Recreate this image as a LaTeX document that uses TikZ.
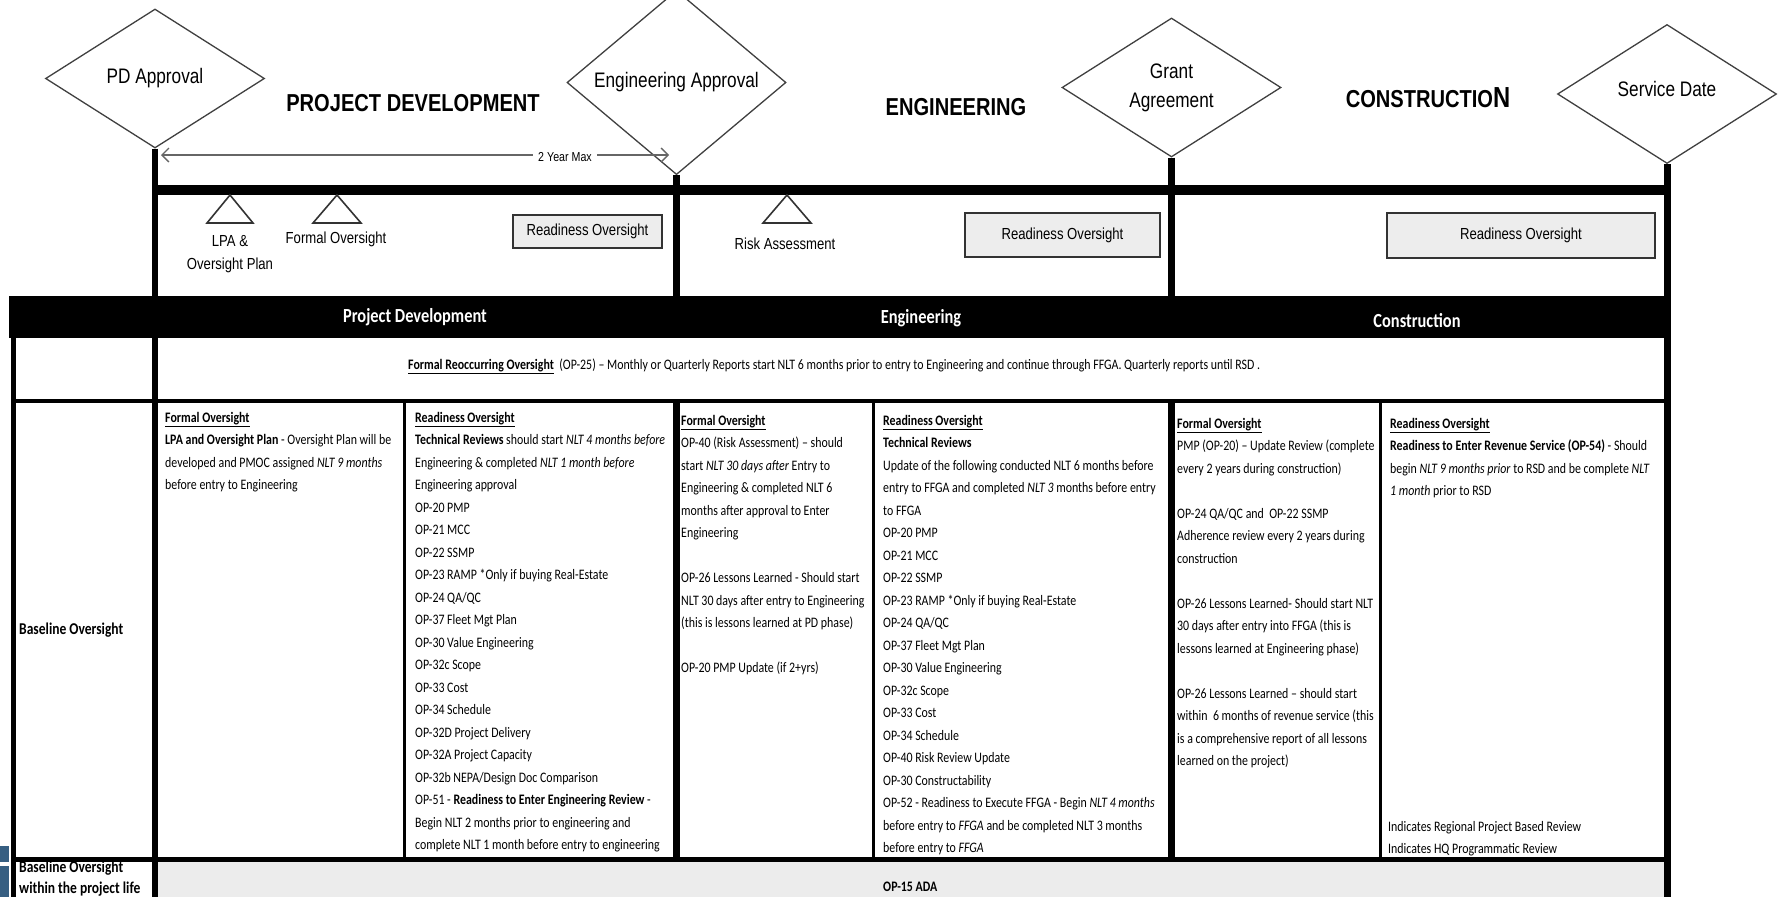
\documentclass[tikz,border=0pt]{standalone}
\usepackage{fontspec}
\setmainfont{Liberation Sans}[FakeStretch=0.82]
\newfontfamily\calfont{Carlito}[FakeStretch=0.82]
\usetikzlibrary{shapes.geometric,arrows.meta}

\definecolor{slideblue}{RGB}{55,95,130}
\newcommand{\hd}[1]{\textbf{\underline{#1}}}
\newcommand{\topstrut}{\rule{0pt}{15pt}}

\begin{document}
\begin{tikzpicture}[x=1pt, y=-1pt,
        gate/.style = {diamond, draw=black!75, line width=1.3pt, minimum width=219pt, minimum height=139pt, inner sep=0pt, align=center, font=\fontsize{21}{29}\selectfont},
        phase/.style = {font=\bfseries\fontsize{24.5}{28}\selectfont},
        note/.style = {align=center, inner sep=0pt, font=\fontsize{16}{23}\selectfont},
        readybox/.style = {draw=black!80, line width=1.5pt, fill=gray!14, inner sep=0pt, font=\fontsize{16}{20}\selectfont},
        band/.style = {text=white, font=\calfont\bfseries\fontsize{20}{24}\selectfont},
        cell/.style = {anchor=north west, inner sep=0pt, align=left, font=\calfont\fontsize{14.5}{22.5}\selectfont},
        rowhead/.style = {anchor=north west, inner sep=0pt, align=left, font=\calfont\bfseries\fontsize{16.5}{21}\selectfont},
        gateline/.style = {line width=6.5pt},
        thinrule/.style = {line width=3pt},
        tri/.style = {draw=black!80, line width=1.6pt}]

        % Page
        \clip (0,0) rectangle (1779,897);
        \fill[white] (0,0) rectangle (1779,897);

        % Levels
        \coordinate (tl) at (0,190);
        \coordinate (bandtop) at (0,296);
        \coordinate (rowtop) at (0,401);
        \coordinate (rowbot) at (0,859);
        \coordinate (bot) at (0,897);

        % Gates
        \node[gate] (PD) at (155,78.5) {PD Approval};
        \node[gate] (EA) at (676.5,82.5) {Engineering Approval};
        \node[gate] (GA) at (1171.5,87.5) {Grant\\Agreement};
        \node[gate] (SD) at (1667,94) {\raisebox{11pt}{Service Date}};

        % Phase titles
        \node[phase] (pdev) at (413,103) {PROJECT DEVELOPMENT};
        \node[phase] (eng) at (956,107) {ENGINEERING};
        \node[phase] (con) at (1428,98) {CONSTRUCTIO{\fontsize{29}{30}\selectfont N}};

        % 2 year span
        \coordinate (yrL) at (161,155);
        \coordinate (yrR) at (669,155);
        \draw[black!60, line width=1.3pt, {Straight Barb[length=7pt,width=14pt]}-{Straight Barb[length=7pt,width=14pt]}] (yrL) -- (yrR);
        \node[fill=white, inner sep=5pt, font=\fontsize{13}{15}\selectfont] (yrmax) at (565,157) {2 Year Max};

        % Fills
        \fill (9,296) rectangle (1670,338);
        \fill[gray!15] (155,861) rectangle (1667,897);
        \fill[slideblue] (0,846) rectangle (9,862);
        \fill[slideblue] (0,866) rectangle (9,897);

        % Timeline and gate lines
        \draw[line width=10pt] (PD.south |- tl) -- (SD.south |- tl);
        \draw[gateline] (PD.south) -- (PD.south |- bot);
        \draw[gateline] (EA.south) -- (EA.south |- bandtop);
        \draw[gateline] (GA.south) -- (GA.south |- bandtop);
        \draw[gateline] (EA.south |- rowtop) -- (EA.south |- rowbot);
        \draw[gateline] (GA.south |- rowtop) -- (GA.south |- rowbot);
        \draw[line width=7pt] (SD.south) -- (SD.south |- bot);

        % Milestones
        \draw[tri] (207,223) -- (230,195) -- (253,223) -- cycle;
        \draw[tri] (313,223) -- (337,195) -- (361,223) -- cycle;
        \draw[tri] (763,223) -- (787,195) -- (811,223) -- cycle;
        \node[note] (lpa) at (230,254) {LPA \&\\Oversight Plan};
        \node[note] (formal) at (336,239) {Formal Oversight};
        \node[note] (risk) at (785,244) {Risk Assessment};

        % Readiness boxes
        \node[readybox, minimum width=149pt, minimum height=33pt] (rdpd) at (587.5,231.5) {Readiness Oversight};
        \node[readybox, minimum width=195pt, minimum height=44pt] (rdeng) at (1062.5,235) {Readiness Oversight};
        \node[readybox, minimum width=268pt, minimum height=45pt] (rdcon) at (1521,235.5) {Readiness Oversight};

        % Band labels
        \node[band] (bpd) at (415,317) {Project Development};
        \node[band] (beng) at (921,318) {Engineering};
        \node[band] (bcon) at (1417,321) {Construction};

        % Table rules
        \draw[line width=5pt] (13,338) -- (13,897);
        \draw[line width=4pt] (13,401) -- (1667,401);
        \draw[line width=5pt] (13,859) -- (1667,859);
        \draw[thinrule] (404,401) -- (404,859);
        \draw[thinrule] (873,401) -- (873,859);
        \draw[thinrule] (1380,401) -- (1380,859);

        % Reoccurring row
        \node[cell] (reocc) at (408,354) {\topstrut\hd{Formal Reoccurring Oversight}\ \ (OP-25) – Monthly or Quarterly Reports start NLT 6 months prior to entry to Engineering and continue through FFGA. Quarterly reports until RSD .};

        % Row headers
        \node[rowhead, anchor=west] (base) at (19,630) {Baseline Oversight};
        \node[rowhead] (baselife) at (19,861) {Baseline Oversight\\within the project life};

        % Project development cells
        \node[cell] (pdformal) at (165,407) {\topstrut\hd{Formal Oversight}\\
            \textbf{LPA and Oversight Plan} - Oversight Plan will be\\
            developed and PMOC assigned \textit{NLT 9 months}\\
            before entry to Engineering};
        \node[cell] (pdready) at (415,407) {\topstrut\hd{Readiness Oversight}\\
            \textbf{Technical Reviews} should start \textit{NLT 4 months before}\\
            Engineering \& completed \textit{NLT 1 month before}\\
            Engineering approval\\
            OP-20 PMP\\
            OP-21 MCC\\
            OP-22 SSMP\\
            OP-23 RAMP *Only if buying Real-Estate\\
            OP-24 QA/QC\\
            OP-37 Fleet Mgt Plan\\
            OP-30 Value Engineering\\
            OP-32c Scope\\
            OP-33 Cost\\
            OP-34 Schedule\\
            OP-32D Project Delivery\\
            OP-32A Project Capacity\\
            OP-32b NEPA/Design Doc Comparison\\
            OP-51 - \textbf{Readiness to Enter Engineering Review} -\\
            Begin NLT 2 months prior to engineering and\\
            complete NLT 1 month before entry to engineering};

        % Engineering cells
        \node[cell] (engformal) at (681,410) {\topstrut\hd{Formal Oversight}\\
            OP-40 (Risk Assessment) – should\\
            start \textit{NLT 30 days after} Entry to\\
            Engineering \& completed NLT 6\\
            months after approval to Enter\\
            Engineering\\
            ~\\
            OP-26 Lessons Learned - Should start\\
            NLT 30 days after entry to Engineering\\
            (this is lessons learned at PD phase)\\
            ~\\
            OP-20 PMP Update (if 2+yrs)};
        \node[cell] (engready) at (883,410) {\topstrut\hd{Readiness Oversight}\\
            \textbf{Technical Reviews}\\
            Update of the following conducted NLT 6 months before\\
            entry to FFGA and completed \textit{NLT 3} months before entry\\
            to FFGA\\
            OP-20 PMP\\
            OP-21 MCC\\
            OP-22 SSMP\\
            OP-23 RAMP *Only if buying Real-Estate\\
            OP-24 QA/QC\\
            OP-37 Fleet Mgt Plan\\
            OP-30 Value Engineering\\
            OP-32c Scope\\
            OP-33 Cost\\
            OP-34 Schedule\\
            OP-40 Risk Review Update\\
            OP-30 Constructability\\
            OP-52 - Readiness to Execute FFGA - Begin \textit{NLT 4 months}\\
            before entry to \textit{FFGA} and be completed NLT 3 months\\
            before entry to \textit{FFGA}};

        % Construction cells
        \node[cell] (conformal) at (1177,413) {\topstrut\hd{Formal Oversight}\\
            PMP (OP-20) – Update Review (complete\\
            every 2 years during construction)\\
            ~\\
            OP-24 QA/QC and~ OP-22 SSMP\\
            Adherence review every 2 years during\\
            construction\\
            ~\\
            OP-26 Lessons Learned- Should start NLT\\
            30 days after entry into FFGA (this is\\
            lessons learned at Engineering phase)\\
            ~\\
            OP-26 Lessons Learned – should start\\
            within~ 6 months of revenue service (this\\
            is a comprehensive report of all lessons\\
            learned on the project)};
        \node[cell] (conready) at (1390,413) {\topstrut\hd{Readiness Oversight}\\
            \textbf{Readiness to Enter Revenue Service (OP-54)} - Should\\
            begin \textit{NLT 9 months prior} to RSD and be complete \textit{NLT}\\
            \textit{1 month} prior to RSD};
        \node[cell] (legend) at (1388,816) {\topstrut Indicates Regional Project Based Review\\
            Indicates HQ Programmatic Review};

        % Bottom row
        \node[cell, font=\calfont\bfseries\fontsize{14.5}{22.5}\selectfont] (ada) at (883,876) {\topstrut OP-15 ADA};
    \end{tikzpicture}
\end{document}
